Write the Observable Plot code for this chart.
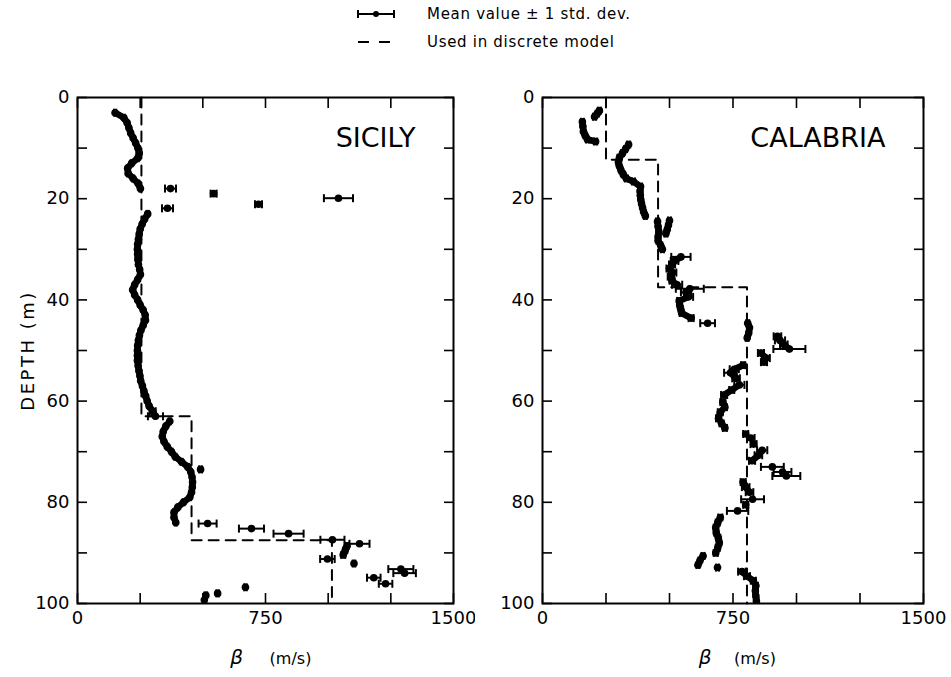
<!DOCTYPE html>
<html>
<head>
<meta charset="utf-8">
<script src="https://cdn.jsdelivr.net/npm/d3@7"></script>
<script src="https://cdn.jsdelivr.net/npm/@observablehq/plot@0.6"></script>
<style>
  body { margin: 0; background: #fff; font-family: "DejaVu Sans", sans-serif; color: #000; }
  #root { position: relative; width: 951px; height: 677px; overflow: hidden; }
  #legend { position: absolute; left: 0; top: 0; width: 951px; height: 62px; }
  .leg-row { position: absolute; left: 354px; height: 22px; display: flex; align-items: center; }
  .leg-row svg { width: 46px; height: 22px; }
  .leg-row span { margin-left: 27px; font-size: 15px; letter-spacing: 0.7px; }
  #left, #right { position: absolute; top: 62px; }
  #left { left: 0; }
  #right { left: 475px; }
</style>
</head>
<body>
<div id="root">
  <div id="legend">
    <div class="leg-row" style="top:3px">
      <svg viewBox="0 0 46 22"><line x1="4" y1="11" x2="40" y2="11" stroke="#000" stroke-width="2"/><line x1="4" y1="7" x2="4" y2="15" stroke="#000" stroke-width="2"/><line x1="40" y1="7" x2="40" y2="15" stroke="#000" stroke-width="2"/><circle cx="22" cy="11" r="3" fill="#000"/></svg>
      <span>Mean value ± 1 std. dev.</span>
    </div>
    <div class="leg-row" style="top:31px">
      <svg viewBox="0 0 46 22"><line x1="4" y1="11" x2="40" y2="11" stroke="#000" stroke-width="2" stroke-dasharray="11,10"/></svg>
      <span>Used in discrete model</span>
    </div>
  </div>
  <div id="left"></div>
  <div id="right"></div>
</div>
<script>
// Shear-wave velocity profiles: mean β (m/s) ± 1 std. dev. versus depth (m)

// --- SICILY -------------------------------------------------------------
const sicilyDepth = [
  3, 4, 5, 6, 7, 8, 9, 10, 11, 12, 13, 14, 15, 16, 17, 18,
  18, 19, 19.9, 21.1, 21.9,
  23, 24, 25, 26, 27, 28, 29, 30, 31, 32, 33, 34, 35, 36, 37, 38, 39, 40, 41, 42,
  43, 44, 45, 46, 47, 48, 49, 50, 51, 52, 53, 54, 55, 56, 57, 58, 59, 60, 61, 62, 63,
  64, 65, 66, 67, 68, 69, 70, 71, 72, 73, 74, 75, 76, 77, 78, 79, 80, 81, 82, 83, 84,
  73.5,
  84.2, 85.2, 86.2, 87.4, 88.2, 88.6, 89.5, 90.4, 91.2, 92.1, 93.2, 94.0, 94.9, 96.1,
  96.8, 98.0, 98.4, 99.3
];
const sicilyBeta = [
  150, 185, 198, 205, 212, 222, 232, 241, 246, 240, 216, 200, 202, 222, 242, 251,
  371, 543, 1041, 722, 359,
  280, 268, 258, 250, 246, 243, 240, 239, 240, 241, 243, 248, 251, 240, 228, 220, 228, 240, 250, 262,
  270, 271, 262, 253, 247, 243, 240, 239, 239, 239, 242, 245, 249, 252, 259, 265, 272, 278, 286, 300, 311,
  368, 352, 342, 338, 345, 358, 375, 390, 415, 440, 452, 457, 459, 458, 455, 448, 423, 400, 385, 385, 392,
  491,
  519, 694, 842, 1017, 1125, 1075, 1068, 1060, 997, 1103, 1290, 1305, 1182, 1229,
  670, 559, 512, 506
];
const sicilySd = [
  4, 4, 4, 4, 4, 4, 4, 4, 4, 4, 4, 4, 4, 4, 4, 4,
  22, 12, 58, 14, 22,
  4, 4, 4, 4, 4, 4, 4, 4, 4, 4, 4, 4, 4, 4, 4, 4, 4, 4, 4, 4,
  4, 4, 4, 4, 4, 4, 4, 4, 4, 4, 4, 4, 4, 4, 4, 4, 4, 4, 4, 12, 30,
  4, 4, 4, 4, 4, 4, 4, 4, 4, 4, 4, 4, 4, 4, 4, 4, 4, 4, 4, 4, 4,
  6,
  36, 50, 60, 48, 40, 8, 8, 8, 29, 5, 50, 45, 27, 27,
  5, 5, 5, 5
];
// layered model: layer boundaries (m) and β of each layer (m/s)
const sicilyLayerDepth = [0, 63, 87.5, 100];
const sicilyLayerBeta = [255, 455, 1015];

// --- CALABRIA -----------------------------------------------------------
const calabriaDepth = [
  2.6, 3.2, 3.8,
  4.8, 5.7, 6.7, 7.5, 8.3, 8.7,
  9.3, 10.2, 11, 11.9, 12.8, 13.6, 14.4, 15.2, 16, 16.6,
  17.6, 18.5, 19.3, 20.2, 21, 21.8, 22.6, 23.4,
  24.5, 25.5, 26.5, 27.5, 28.3, 29.2, 30,
  24.3, 25.2, 26.1, 26.9,
  31.5, 32.3, 33, 33.8, 34.6, 35.4, 36.2, 37,
  37.8, 38.5, 39.4,
  40.2, 41, 41.8, 42.6,
  43.6, 44.6,
  44.6, 45.5, 46.5, 47.5,
  47.2, 48, 48.8, 49.7,
  50.5, 51.5, 52.3,
  52.9, 53.7, 54.4, 55.5, 56.8, 57.8, 58.8, 60.2, 61.2, 62.2, 63.4, 64.4, 65.3,
  66.5, 67.3, 68.5, 69.7, 70.7, 71.8,
  73, 74, 74.8,
  76, 77, 78, 79.4, 80.5, 81.7,
  83, 84, 85, 86, 87, 88, 89, 90,
  90.6, 91.5, 92.4, 92.9,
  93.7, 94.6, 95.5, 96.5, 97.5, 98.5, 99.5
];
const calabriaBeta = [
  224, 215, 205,
  157, 159, 161, 168, 177, 209,
  339, 327, 315, 303, 299, 303, 309, 318, 330, 358,
  386, 384, 385, 387, 390, 394, 398, 405,
  453, 455, 458, 455, 455, 465, 472,
  500, 496, 491, 486,
  545, 520, 510, 500, 512, 505, 510, 530,
  580, 565, 575,
  538, 540, 544, 548,
  585, 650,
  808, 815, 812, 806,
  925, 935, 950, 972,
  860, 880, 872,
  790, 755, 740, 762, 775, 745, 715, 710, 718, 700, 693, 705, 718,
  800, 820, 831, 865, 850, 825,
  905, 945, 960,
  790, 800, 815, 827, 800, 768,
  700, 690, 682, 684, 692, 696, 690, 682,
  632, 620, 612, 689,
  785, 805, 830, 840, 838, 840, 842
];
const calabriaSd = [
  6, 6, 6,
  6, 6, 6, 6, 6, 6,
  6, 6, 6, 8, 8, 6, 6, 6, 6, 6,
  6, 6, 6, 6, 6, 6, 6, 6,
  6, 6, 6, 6, 6, 6, 6,
  6, 6, 6, 6,
  38, 15, 12, 12, 15, 12, 10, 20,
  55, 20, 18,
  8, 8, 8, 8,
  10, 29,
  6, 6, 6, 6,
  15, 20, 15, 63,
  12, 15, 12,
  8, 18, 25, 15, 20, 10, 12, 10, 8, 10, 10, 8, 8,
  10, 15, 12, 20, 15, 12,
  45, 35, 55,
  10, 15, 15, 45, 10, 42,
  8, 8, 8, 8, 8, 8, 8, 8,
  6, 6, 6, 6,
  15, 12, 10, 8, 8, 8, 8
];
const calabriaLayerDepth = [0, 12.3, 37.5, 100];
const calabriaLayerBeta = [250, 455, 805];

// --- axes ---------------------------------------------------------------
const betaTicks = [0, 250, 500, 750, 1000, 1250, 1500];
const betaTickLabels = [0, 750, 1500];
const depthTicks = [0, 10, 20, 30, 40, 50, 60, 70, 80, 90, 100];
const depthTickLabels = [0, 20, 40, 60, 80, 100];

// vertical bar used as the error-bar end cap
const capSymbol = {
  draw(context, size) {
    const h = Math.sqrt(size / Math.PI);
    context.moveTo(0, -h);
    context.lineTo(0, h);
  }
};

function rowsOf(depth, beta, sd) {
  return depth.map((d, i) => ({depth: d, beta: beta[i], sd: sd[i]}));
}

// consecutive closely spaced measurements merge into one continuous trace
function tracesOf(rows) {
  let id = 0;
  const tagged = rows.map((r, i) => {
    if (i > 0) {
      const p = rows[i - 1];
      const step = r.depth - p.depth;
      if (!(step > 0 && step <= 1.2 && Math.abs(r.beta - p.beta) < 40)) id++;
    }
    return {...r, trace: id};
  });
  const counts = d3.rollup(tagged, v => v.length, d => d.trace);
  return tagged.filter(d => counts.get(d.trace) >= 3);
}

function layersOf(bounds, beta) {
  const out = [];
  beta.forEach((b, i) => {
    out.push({depth: bounds[i], beta: b});
    out.push({depth: bounds[i + 1], beta: b});
  });
  return out;
}

function panel({rows, layers, title, width, marginLeft, marginRight, depthLabel, unitDx}) {
  const marks = [
    Plot.line(layers, {x: "beta", y: "depth", stroke: "#000", strokeWidth: 2, strokeDasharray: "10,7"}),
    Plot.line(tracesOf(rows), {x: "beta", y: "depth", z: "trace", stroke: "#000", strokeWidth: 6.5, strokeLinecap: "round", strokeLinejoin: "round", clip: "frame"}),
    Plot.ruleY(rows, {y: "depth", x1: d => d.beta - d.sd, x2: d => d.beta + d.sd, stroke: "#000", strokeWidth: 2, clip: "frame"}),
    Plot.dot(rows, {x: d => d.beta - d.sd, y: "depth", symbol: capSymbol, r: 4, stroke: "#000", fill: "none", strokeWidth: 2, clip: "frame"}),
    Plot.dot(rows, {x: d => d.beta + d.sd, y: "depth", symbol: capSymbol, r: 4, stroke: "#000", fill: "none", strokeWidth: 2, clip: "frame"}),
    Plot.dot(rows, {x: "beta", y: "depth", r: 3.8, fill: "#000", clip: "frame"}),
    Plot.frame({stroke: "#000", strokeWidth: 2}),
    Plot.axisX(betaTicks, {anchor: "bottom", tickSize: -10, strokeWidth: 1.6, tickFormat: () => "", label: null}),
    Plot.axisX(betaTicks, {anchor: "top", tickSize: -10, strokeWidth: 1.6, tickFormat: () => "", label: null}),
    Plot.axisX(betaTickLabels, {anchor: "bottom", tickSize: 0, tickPadding: 8, fontSize: 18, tickFormat: d => String(d), label: null}),
    Plot.axisY(depthTicks, {anchor: "left", tickSize: -10, strokeWidth: 1.6, tickFormat: () => "", label: null}),
    Plot.axisY(depthTicks, {anchor: "right", tickSize: -10, strokeWidth: 1.6, tickFormat: () => "", label: null}),
    Plot.axisY(depthTickLabels, {anchor: "left", tickSize: 0, tickPadding: 8, fontSize: 18, tickFormat: d => String(d), label: null}),
    Plot.text([title], {text: d => d, frameAnchor: "top-right", dx: -38, dy: 30, textAnchor: "end", lineAnchor: "top", fontSize: 27}),
    Plot.text(["β"], {text: d => d, frameAnchor: "bottom", dx: unitDx[0], dy: 60, fontSize: 20, fontStyle: "italic"}),
    Plot.text(["(m/s)"], {text: d => d, frameAnchor: "bottom", dx: unitDx[1], dy: 60, fontSize: 16})
  ];
  if (depthLabel) {
    marks.push(Plot.text([depthLabel], {text: d => d, frameAnchor: "left", dx: -49, rotate: -90, textAnchor: "middle", fontSize: 18}));
  }
  const svg = Plot.plot({
    width,
    height: 615,
    marginTop: 35,
    marginBottom: 74,
    marginLeft,
    marginRight,
    style: {fontFamily: "DejaVu Sans, sans-serif", color: "#000", background: "#fff", overflow: "visible"},
    x: {domain: [0, 1500], label: null},
    y: {domain: [0, 100], reverse: true, label: null},
    marks
  });
  if (depthLabel) {
    d3.select(svg).selectAll("text")
      .filter(function () { return this.textContent === depthLabel; })
      .attr("font-size", 18)
      .attr("letter-spacing", 2.5);
  }
  return svg;
}

document.getElementById("left").append(panel({
  rows: rowsOf(sicilyDepth, sicilyBeta, sicilySd),
  layers: layersOf(sicilyLayerDepth, sicilyLayerBeta),
  title: "SICILY",
  width: 475, marginLeft: 77, marginRight: 22,
  depthLabel: "DEPTH (m)",
  unitDx: [-29, 25]
}));

document.getElementById("right").append(panel({
  rows: rowsOf(calabriaDepth, calabriaBeta, calabriaSd),
  layers: layersOf(calabriaLayerDepth, calabriaLayerBeta),
  title: "CALABRIA",
  width: 476, marginLeft: 67, marginRight: 28,
  depthLabel: null,
  unitDx: [-28, 22]
}));
</script>
</body>
</html>
